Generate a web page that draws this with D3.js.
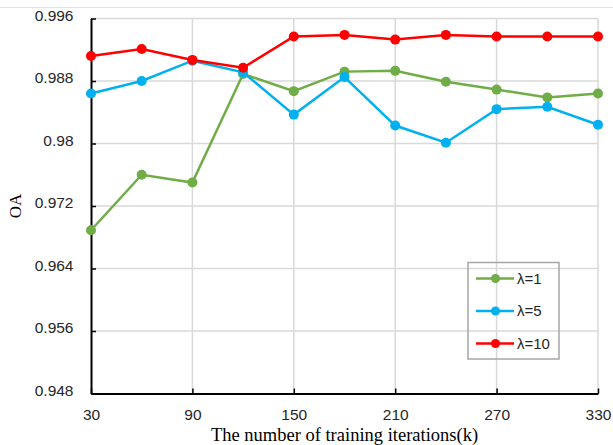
<!DOCTYPE html>
<html>
<head>
<meta charset="utf-8">
<script src="https://cdn.jsdelivr.net/npm/d3@7"></script>
<style>
  body { margin: 0; background: #fff; }
  svg { display: block; }
</style>
</head>
<body>
<div id="chart"></div>
<script>
// data
var iterations = [30, 60, 90, 120, 150, 180, 210, 240, 270, 300, 330];
var lambda1 = [0.9689, 0.9760, 0.9750, 0.9889, 0.9867, 0.9892, 0.9893, 0.9879, 0.9869, 0.9859, 0.9864];
var lambda5 = [0.9864, 0.9880, 0.9906, 0.9891, 0.9837, 0.9885, 0.9823, 0.9801, 0.9844, 0.9847, 0.9824];
var lambda10 = [0.9912, 0.9921, 0.9907, 0.9897, 0.9937, 0.9939, 0.9933, 0.9939, 0.9937, 0.9937, 0.9937];
var seriesNames = ['λ=1', 'λ=5', 'λ=10'];
var seriesColors = ['#70AD47', '#00B0F0', '#FF0000'];
var xTicks = [30, 90, 150, 210, 270, 330];
var yTicks = [0.948, 0.956, 0.964, 0.972, 0.98, 0.988, 0.996];

var series = [lambda1, lambda5, lambda10].map(function (vals, i) {
	return {
		name: seriesNames[i],
		color: seriesColors[i],
		values: vals.map(function (v, j) { return { x: iterations[j], y: v }; })
	};
});

var W = 613, H = 445;
var margin = { top: 18.5, right: 15, bottom: 51.5, left: 91 };
var width = W - margin.left - margin.right,
	height = H - margin.top - margin.bottom;

var svg = d3.select('#chart').append('svg')
	.attr('width', W)
	.attr('height', H);

// faint frame line at top
svg.append('line')
	.attr('x1', 0).attr('x2', W)
	.attr('y1', 7.5).attr('y2', 7.5)
	.attr('stroke', '#e3e3e3');

var g = svg.append('g')
	.attr('transform', 'translate(' + margin.left + ',' + margin.top + ')');

var x = d3.scaleLinear().domain([30, 330]).range([0, width]);
var y = d3.scaleLinear().domain([0.948, 0.996]).range([height, 0]);

// grid
g.append('g').selectAll('line.h')
	.data(yTicks.slice(1))
	.enter().append('line')
	.attr('x1', 0).attr('x2', width)
	.attr('y1', function (d) { return y(d); })
	.attr('y2', function (d) { return y(d); })
	.attr('stroke', '#d9d9d9').attr('stroke-width', 1.5);

g.append('g').selectAll('line.v')
	.data(xTicks.slice(1))
	.enter().append('line')
	.attr('y1', 0).attr('y2', height)
	.attr('x1', function (d) { return x(d); })
	.attr('x2', function (d) { return x(d); })
	.attr('stroke', '#d9d9d9').attr('stroke-width', 1.5);

// axes, ticks pointing inward
var xAxis = d3.axisBottom(x).tickValues(xTicks).tickSizeInner(-5).tickSizeOuter(0).tickPadding(15.5);
var yAxis = d3.axisLeft(y).tickValues(yTicks).tickSizeInner(-5).tickSizeOuter(0).tickPadding(17.5)
	.tickFormat(function (d) { return String(+d.toFixed(3)); });

var gx = g.append('g').attr('transform', 'translate(0,' + height + ')').call(xAxis);
var gy = g.append('g').call(yAxis);

[gx, gy].forEach(function (a) {
	a.select('.domain').attr('stroke', '#000').attr('stroke-width', 2);
	a.selectAll('.tick line').attr('stroke', '#000').attr('stroke-width', 1.5);
	a.selectAll('.tick text')
		.attr('fill', '#262626')
		.style('font-family', '"Liberation Sans", Arial, sans-serif')
		.style('font-size', '15.5px');
});
gy.selectAll('.tick text').attr('dy', '0.1em');

// lines
var line = d3.line()
	.x(function (d) { return x(d.x); })
	.y(function (d) { return y(d.y); });

var sg = g.selectAll('g.series')
	.data(series)
	.enter().append('g');

sg.append('path')
	.attr('d', function (d) { return line(d.values); })
	.attr('fill', 'none')
	.attr('stroke', function (d) { return d.color; })
	.attr('stroke-width', 2.5);

sg.selectAll('circle')
	.data(function (d) { return d.values.map(function (v) { return { x: v.x, y: v.y, c: d.color }; }); })
	.enter().append('circle')
	.attr('cx', function (d) { return x(d.x); })
	.attr('cy', function (d) { return y(d.y); })
	.attr('r', 5)
	.attr('fill', function (d) { return d.c; });

// axis titles
svg.append('text')
	.attr('x', margin.left + width / 2)
	.attr('y', 441)
	.attr('text-anchor', 'middle')
	.style('font-family', '"Liberation Serif", "Times New Roman", serif')
	.style('font-size', '18.5px')
	.attr('fill', '#000')
	.text('The number of training iterations(k)');

svg.append('text')
	.attr('transform', 'translate(21,' + (margin.top + y(0.972)) + ') rotate(-90)')
	.attr('text-anchor', 'middle')
	.style('font-family', '"Liberation Serif", "Times New Roman", serif')
	.style('font-size', '17px')
	.attr('fill', '#000')
	.text('OA');

// legend
var lg = svg.append('g').attr('transform', 'translate(468,262.5)');
lg.append('rect')
	.attr('width', 91).attr('height', 96.5)
	.attr('fill', 'none')
	.attr('stroke', '#a6a6a6').attr('stroke-width', 1.5);

var item = lg.selectAll('g.item')
	.data(series)
	.enter().append('g')
	.attr('transform', function (d, i) { return 'translate(0,' + (16 + i * 32.5) + ')'; });

item.append('line')
	.attr('x1', 8).attr('x2', 46)
	.attr('stroke', function (d) { return d.color; })
	.attr('stroke-width', 2.5);
item.append('circle')
	.attr('cx', 27.5).attr('r', 4.5)
	.attr('fill', function (d) { return d.color; });
item.append('text')
	.attr('x', 49).attr('dy', '0.36em')
	.style('font-family', '"Liberation Sans", Arial, sans-serif')
	.style('font-size', '15px')
	.attr('fill', '#262626')
	.text(function (d) { return d.name; });
</script>
</body>
</html>
